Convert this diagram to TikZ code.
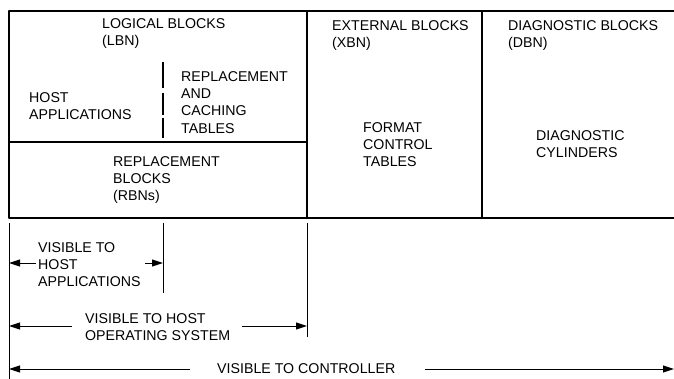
\documentclass[tikz,border=0pt]{standalone}
\usepackage{fontspec}
\setmainfont{Liberation Sans}
\usetikzlibrary{arrows.meta}
\begin{document}
\begin{tikzpicture}[x=1pt, y=-1pt, line join=round,
	font=\fontsize{14.2}{17.4}\selectfont]
	\tikzset{lbl/.style={anchor=north west, inner sep=0pt, align=left},
		wall/.style={line width=1.6pt},
		tick/.style={line width=0.9pt},
		dim/.style={line width=1pt, -{Stealth[length=11pt,width=7pt,inset=0pt]}}}
	\useasboundingbox(0,0)rectangle(674,379);
	% blocks
	\draw[wall](674,11)--(9,11)--(9,218)--(674,218);
	\draw[wall](307,11)coordinate(xl)--(307,218)coordinate(xb);
	\draw[wall](482,11)--(482,218);
	\draw[wall](9,142)--(307,142);
	\draw[line width=2.2pt](163,62)--(163,88)(163,93)--(163,115)(163,118)--(163,138);
	\node[lbl](lbn)at(102,18){LOGICAL BLOCKS\\(LBN)};
	\node[lbl](host)at(29,92){HOST\\APPLICATIONS};
	\node[lbl](cache)at(181,71){REPLACEMENT\\AND\\CACHING\\TABLES};
	\node[lbl](rbn)at(113,156){REPLACEMENT\\BLOCKS\\(RBNs)};
	\node[lbl](xbn)at(332,20){EXTERNAL BLOCKS\\(XBN)};
	\node[lbl](fct)at(363,122){FORMAT\\CONTROL\\TABLES};
	\node[lbl](dbn)at(508,20){DIAGNOSTIC BLOCKS\\(DBN)};
	\node[lbl](dcyl)at(536,130){DIAGNOSTIC\\CYLINDERS};
	% visibility ranges
	\draw[tick](9,223)coordinate(t0)--(9,379);
	\draw[tick](163,223)coordinate(t1)--(163,293);
	\draw[tick](307,223)coordinate(t2)--(307,337);
	\node[lbl](vapp)at(38,242){VISIBLE TO\\HOST\\APPLICATIONS};
	\node[lbl](vos)at(85,313){VISIBLE TO HOST\\OPERATING SYSTEM};
	\node[anchor=west,inner sep=0pt](vctl)at(217,369){VISIBLE TO CONTROLLER};
	\coordinate(a1)at(145,263);
	\coordinate(o1)at(72,326);
	\coordinate(o2)at(242,326);
	\coordinate(c1)at(190,369);
	\coordinate(c2)at(425,369);
	\coordinate(c3)at(674,369);
	\draw[dim](36,263)--(t0|-a1);
	\draw[dim](a1)--(t1|-a1);
	\draw[dim](o1)--(t0|-o1);
	\draw[dim](o2)--(t2|-o2);
	\draw[dim](c1)--(t0|-c1);
	\draw[dim](c2)--(c3);
\end{tikzpicture}
\end{document}
